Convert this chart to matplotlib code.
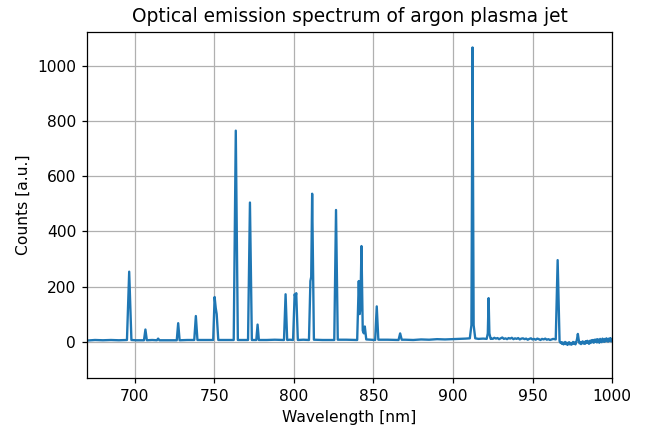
import numpy as np
import matplotlib
matplotlib.use("Agg")
import matplotlib.pyplot as plt

# emission lines region 670-870 nm
lines_nm = [670, 675, 680, 685, 690,
            695.1, 696.5, 697.9,
            701, 705.8, 706.7, 707.6,
            711, 713.9, 714.7, 715.5,
            721, 726.4, 727.3, 728.2,
            733, 737.4, 738.4, 739.4,
            744, 749.3, 750.2, 750.9, 751.5, 752.5,
            757, 762.2, 763.5, 764.8,
            768, 771.2, 772.4, 773.6,
            775, 776.4, 777.2, 778.0,
            783, 788, 793.8, 794.8, 795.8,
            797.5, 799.5, 800.5, 801.0, 801.5, 802.5,
            806, 809.5, 810.4, 810.9, 811.5, 812.6,
            818, 825.4, 826.5, 827.6,
            833, 839.8, 840.8, 841.4, 841.8, 842.5, 843.3, 844.0, 844.6, 845.5,
            848, 851.1, 852.1, 853.1,
            859, 865.8, 866.8, 867.8]
lines_counts = [4, 6, 5, 6, 5,
                6, 254, 6,
                5, 5, 44, 5,
                6, 5, 11, 5,
                5, 5, 67, 5,
                6, 6, 93, 6,
                6, 6, 162, 122, 100, 6,
                6, 6, 766, 6,
                6, 6, 505, 6,
                6, 6, 62, 6,
                6, 7, 6, 172, 6,
                7, 6, 172, 160, 176, 6,
                7, 6, 220, 235, 537, 7,
                6, 6, 478, 7,
                7, 6, 220, 100, 120, 347, 40, 30, 55, 8,
                7, 6, 128, 7,
                7, 6, 30, 7]

# flat part and strongest lines 870-925 nm
mid_nm = [870, 875, 880, 885, 890, 895, 900, 905, 908,
          910.6, 911.6, 912.3, 913.0, 914.0,
          916, 919, 921.2, 921.9, 922.4, 922.9, 923.7]
mid_counts = [7, 6, 8, 7, 9, 8, 9, 10, 11,
              12, 60, 1068, 60, 12,
              10, 11, 10, 30, 158, 30, 10]

# noisy tail 924-1001 nm
tail_nm = [924, 925, 926, 927, 928, 929, 930, 931, 932, 933, 934, 935, 936,
           937, 938, 939, 940, 941, 942, 943, 944, 945, 946, 947, 948, 949,
           950, 951, 952, 953, 954, 955, 956, 957, 958, 959, 960, 961, 962,
           963, 964.6, 965.8, 967.0,
           967.5, 968, 968.5, 969, 969.5, 970, 970.5, 971, 971.5, 972, 972.5,
           973, 973.5, 974, 974.5, 975, 975.5, 976, 976.5, 977, 977.5, 978,
           978.5, 979, 979.5, 980, 980.5, 981, 981.5, 982, 982.5, 983, 983.5,
           984, 984.5, 985, 985.5, 986, 986.5, 987, 987.5, 988, 988.5, 989,
           989.5, 990, 990.5, 991, 991.5, 992, 992.5, 993, 993.5, 994, 994.5,
           995, 995.5, 996, 996.5, 997, 997.5, 998, 998.5, 999, 999.5, 1000,
           1001]
tail_counts = [12, 10, 14, 11, 13, 9, 12, 15, 10, 12, 9, 13, 11,
               14, 9, 12, 10, 13, 8, 11, 12, 9, 11, 7, 10, 12,
               8, 10, 7, 11, 9, 6, 10, 8, 11, 7, 9, 6, 8,
               10, 8, 296, 2,
               -4, -2, -8, -3, -10, -6, -1, -9, -4, -12, -6,
               -2, -10, -5, -11, -7, -1, -8, -3, -10, -2, 10,
               28, 8, -6, -2, -9, -4, 1, -7, -1, -8, 2,
               -5, 3, -3, -8, 3, -5, 5, -2, 6, -4, 7,
               -1, 8, -3, 9, 1, -4, 10, 2, -2, 11, 4,
               -1, 10, 1, 12, 5, 0, 11, 3, 13, 1, 9,
               5]

wavelength = np.array(lines_nm + mid_nm + tail_nm)
counts = np.array(lines_counts + mid_counts + tail_counts)

fig = plt.figure(figsize=(647 / 112, 432 / 112), dpi=112)
ax = fig.add_axes([0.1345, 0.125, 0.8115, 0.8015])
ax.plot(wavelength, counts, color='#1f77b4', linewidth=1.5)
ax.set_xlim(670, 1000)
ax.set_ylim(-132, 1125)
ax.set_title('Optical emission spectrum of argon plasma jet')
ax.set_xlabel('Wavelength [nm]')
ax.set_ylabel('Counts [a.u.]')
ax.grid(True)

fig.savefig('out.png', dpi=112)
